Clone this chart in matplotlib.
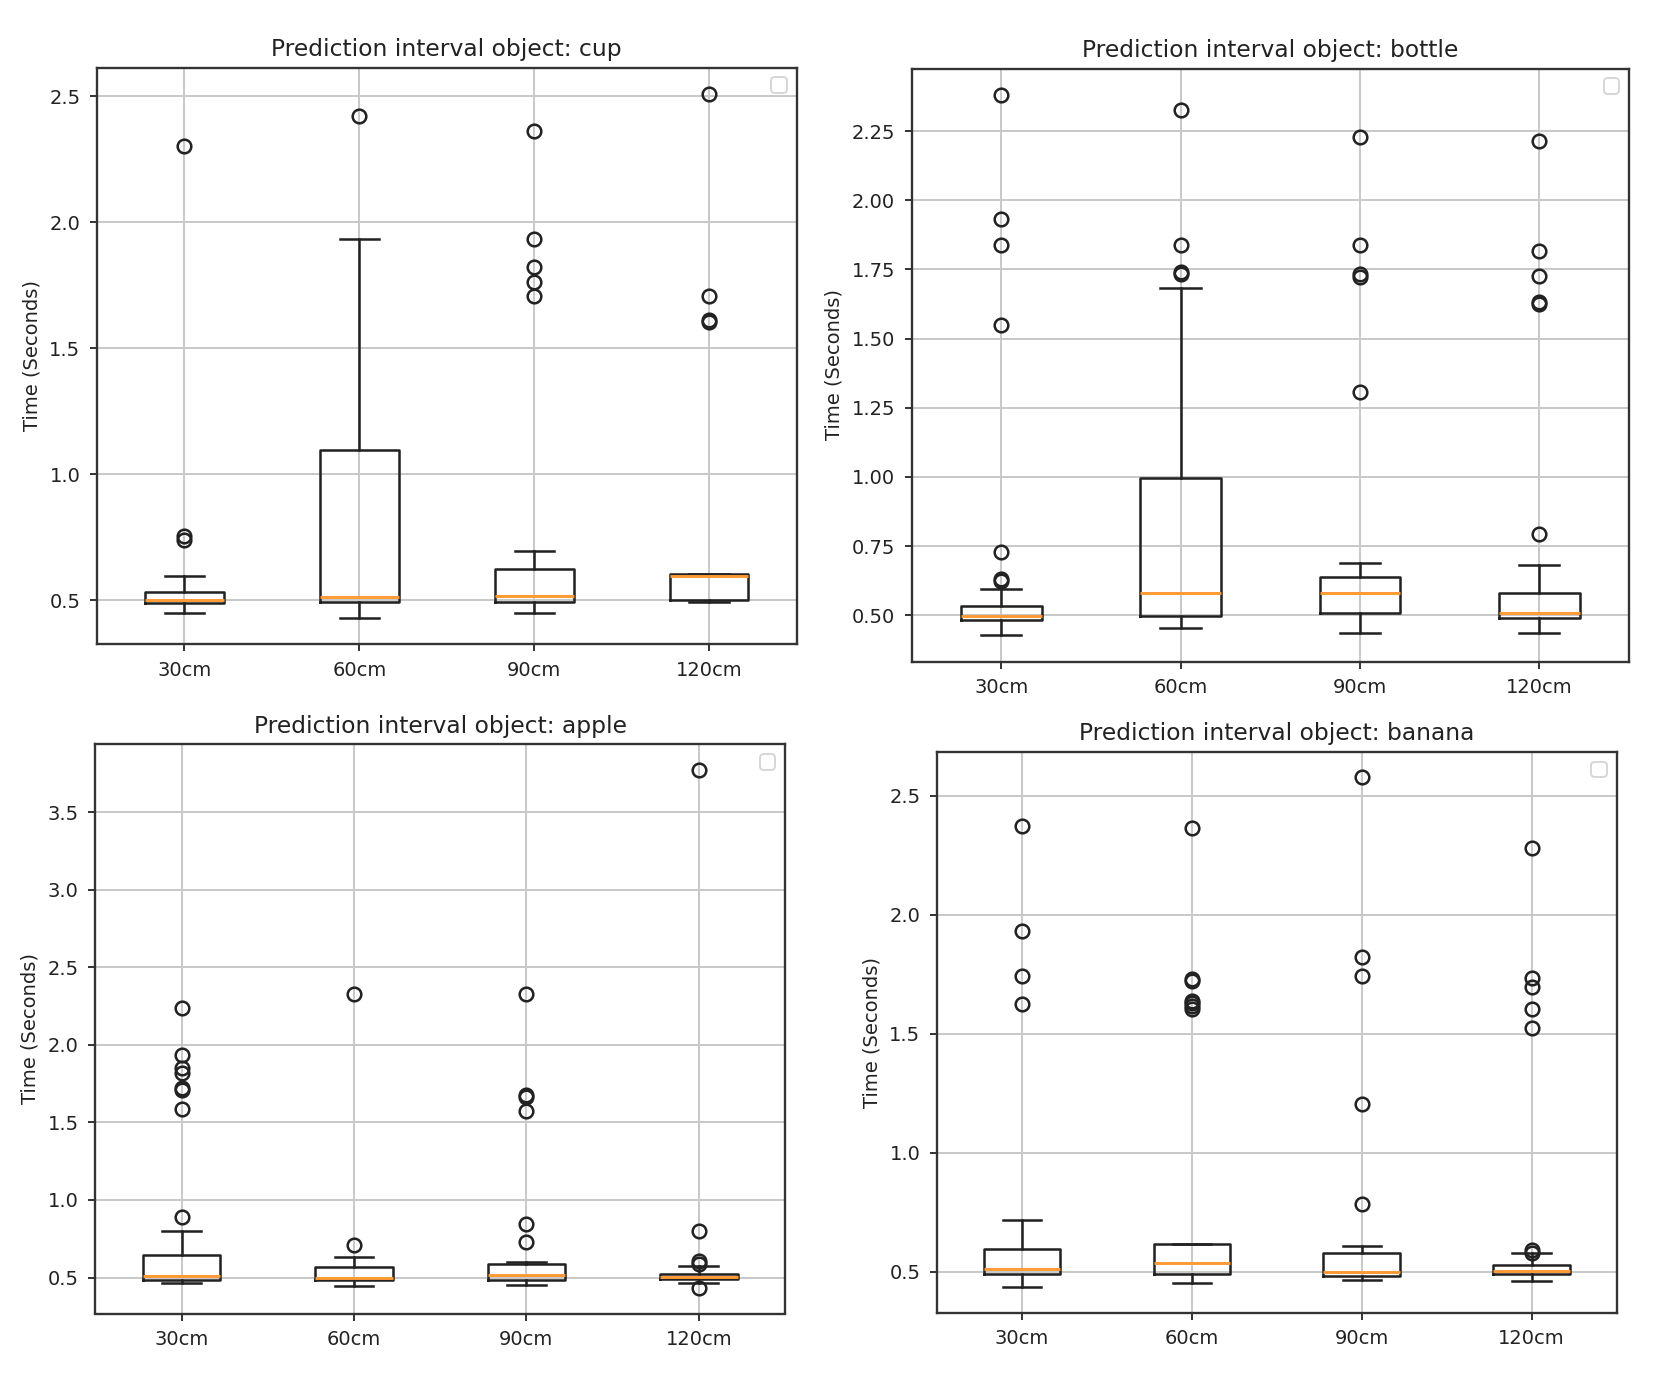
import matplotlib
matplotlib.use("Agg")
import matplotlib.pyplot as plt

categories = ["30cm", "60cm", "90cm", "120cm"]
objects = ["cup", "bottle", "apple", "banana"]

# box statistics per object: lower whisker, q1, median, q3, upper whisker
cup_whislo = [0.451, 0.430, 0.451, 0.491]
cup_q1 = [0.488, 0.491, 0.491, 0.500]
cup_med = [0.500, 0.512, 0.517, 0.596]
cup_q3 = [0.531, 1.097, 0.622, 0.603]
cup_whishi = [0.596, 1.935, 0.695, 0.603]
cup_fliers = [[0.739, 0.756, 2.305],
              [2.424],
              [1.706, 1.762, 1.823, 1.935, 2.361],
              [1.605, 1.614, 1.706, 2.511]]

bottle_whislo = [0.430, 0.454, 0.436, 0.436]
bottle_q1 = [0.481, 0.497, 0.508, 0.489]
bottle_med = [0.497, 0.581, 0.581, 0.508]
bottle_q3 = [0.532, 0.997, 0.637, 0.581]
bottle_whishi = [0.595, 1.683, 0.687, 0.683]
bottle_fliers = [[0.624, 0.632, 0.727, 1.550, 1.839, 1.931, 2.379],
                 [1.733, 1.739, 1.839, 2.327],
                 [1.307, 1.723, 1.733, 1.839, 2.228],
                 [0.795, 1.625, 1.631, 1.728, 1.815, 2.215]]

apple_whislo = [0.463, 0.443, 0.449, 0.463]
apple_q1 = [0.486, 0.486, 0.483, 0.490]
apple_med = [0.511, 0.500, 0.515, 0.505]
apple_q3 = [0.647, 0.568, 0.585, 0.525]
apple_whishi = [0.802, 0.633, 0.599, 0.576]
apple_fliers = [[0.887, 1.588, 1.707, 1.720, 1.820, 1.850, 1.933, 2.238],
                [0.712, 2.328],
                [0.732, 0.845, 1.574, 1.664, 1.678, 2.328],
                [0.435, 0.590, 0.605, 0.802, 3.770]]

banana_whislo = [0.435, 0.454, 0.467, 0.463]
banana_q1 = [0.491, 0.491, 0.482, 0.491]
banana_med = [0.513, 0.537, 0.500, 0.504]
banana_q3 = [0.596, 0.615, 0.578, 0.528]
banana_whishi = [0.716, 0.615, 0.607, 0.579]
banana_fliers = [[1.627, 1.741, 1.931, 2.375],
                 [1.605, 1.618, 1.630, 1.640, 1.720, 1.730, 2.366],
                 [0.786, 1.206, 1.741, 1.824, 2.578],
                 [0.580, 0.590, 1.525, 1.603, 1.697, 1.734, 2.279]]

data = {
    "cup": (cup_whislo, cup_q1, cup_med, cup_q3, cup_whishi, cup_fliers),
    "bottle": (bottle_whislo, bottle_q1, bottle_med, bottle_q3, bottle_whishi, bottle_fliers),
    "apple": (apple_whislo, apple_q1, apple_med, apple_q3, apple_whishi, apple_fliers),
    "banana": (banana_whislo, banana_q1, banana_med, banana_q3, banana_whishi, banana_fliers),
}

W, H = 1661, 1380
DPI = 140
fig = plt.figure(figsize=(W / DPI, H / DPI), dpi=DPI)

# axes rectangles in pixels: left, top, right, bottom
rects = {
    "cup": (97, 67.5, 796.5, 644),
    "bottle": (911.5, 68.5, 1629, 661.5),
    "apple": (95.3, 744.3, 785, 1313.5),
    "banana": (937, 751.8, 1616.5, 1312.8),
}

lw = 1.3
for obj in objects:
    l, t, r, b = rects[obj]
    ax = fig.add_axes([l / W, 1 - b / H, (r - l) / W, (b - t) / H])
    wlo, q1, med, q3, whi, fl = data[obj]
    stats = []
    for i, cat in enumerate(categories):
        stats.append(dict(label=cat, whislo=wlo[i], q1=q1[i], med=med[i],
                          q3=q3[i], whishi=whi[i], fliers=fl[i]))
    ax.bxp(stats, showfliers=True,
           boxprops=dict(linewidth=lw, color="#222222"),
           whiskerprops=dict(linewidth=lw, color="#222222"),
           capprops=dict(linewidth=lw, color="#222222"),
           medianprops=dict(linewidth=lw + 0.2, color="#ff9933"),
           flierprops=dict(marker="o", markersize=7, markeredgewidth=1.3,
                           markeredgecolor="#222222", markerfacecolor="none"))
    ax.grid(True, color="#c8c8c8", linewidth=1.0)
    for s in ax.spines.values():
        s.set_linewidth(1.2)
        s.set_color("#333333")
    ax.tick_params(labelcolor="#222222", pad=5)
    ax.set_title(f"Prediction interval object: {obj}", color="#222222")
    ax.set_ylabel("Time (Seconds)", color="#222222")
    ax.legend(handles=[], loc="upper right")

fig.savefig("out.png", dpi=DPI)
